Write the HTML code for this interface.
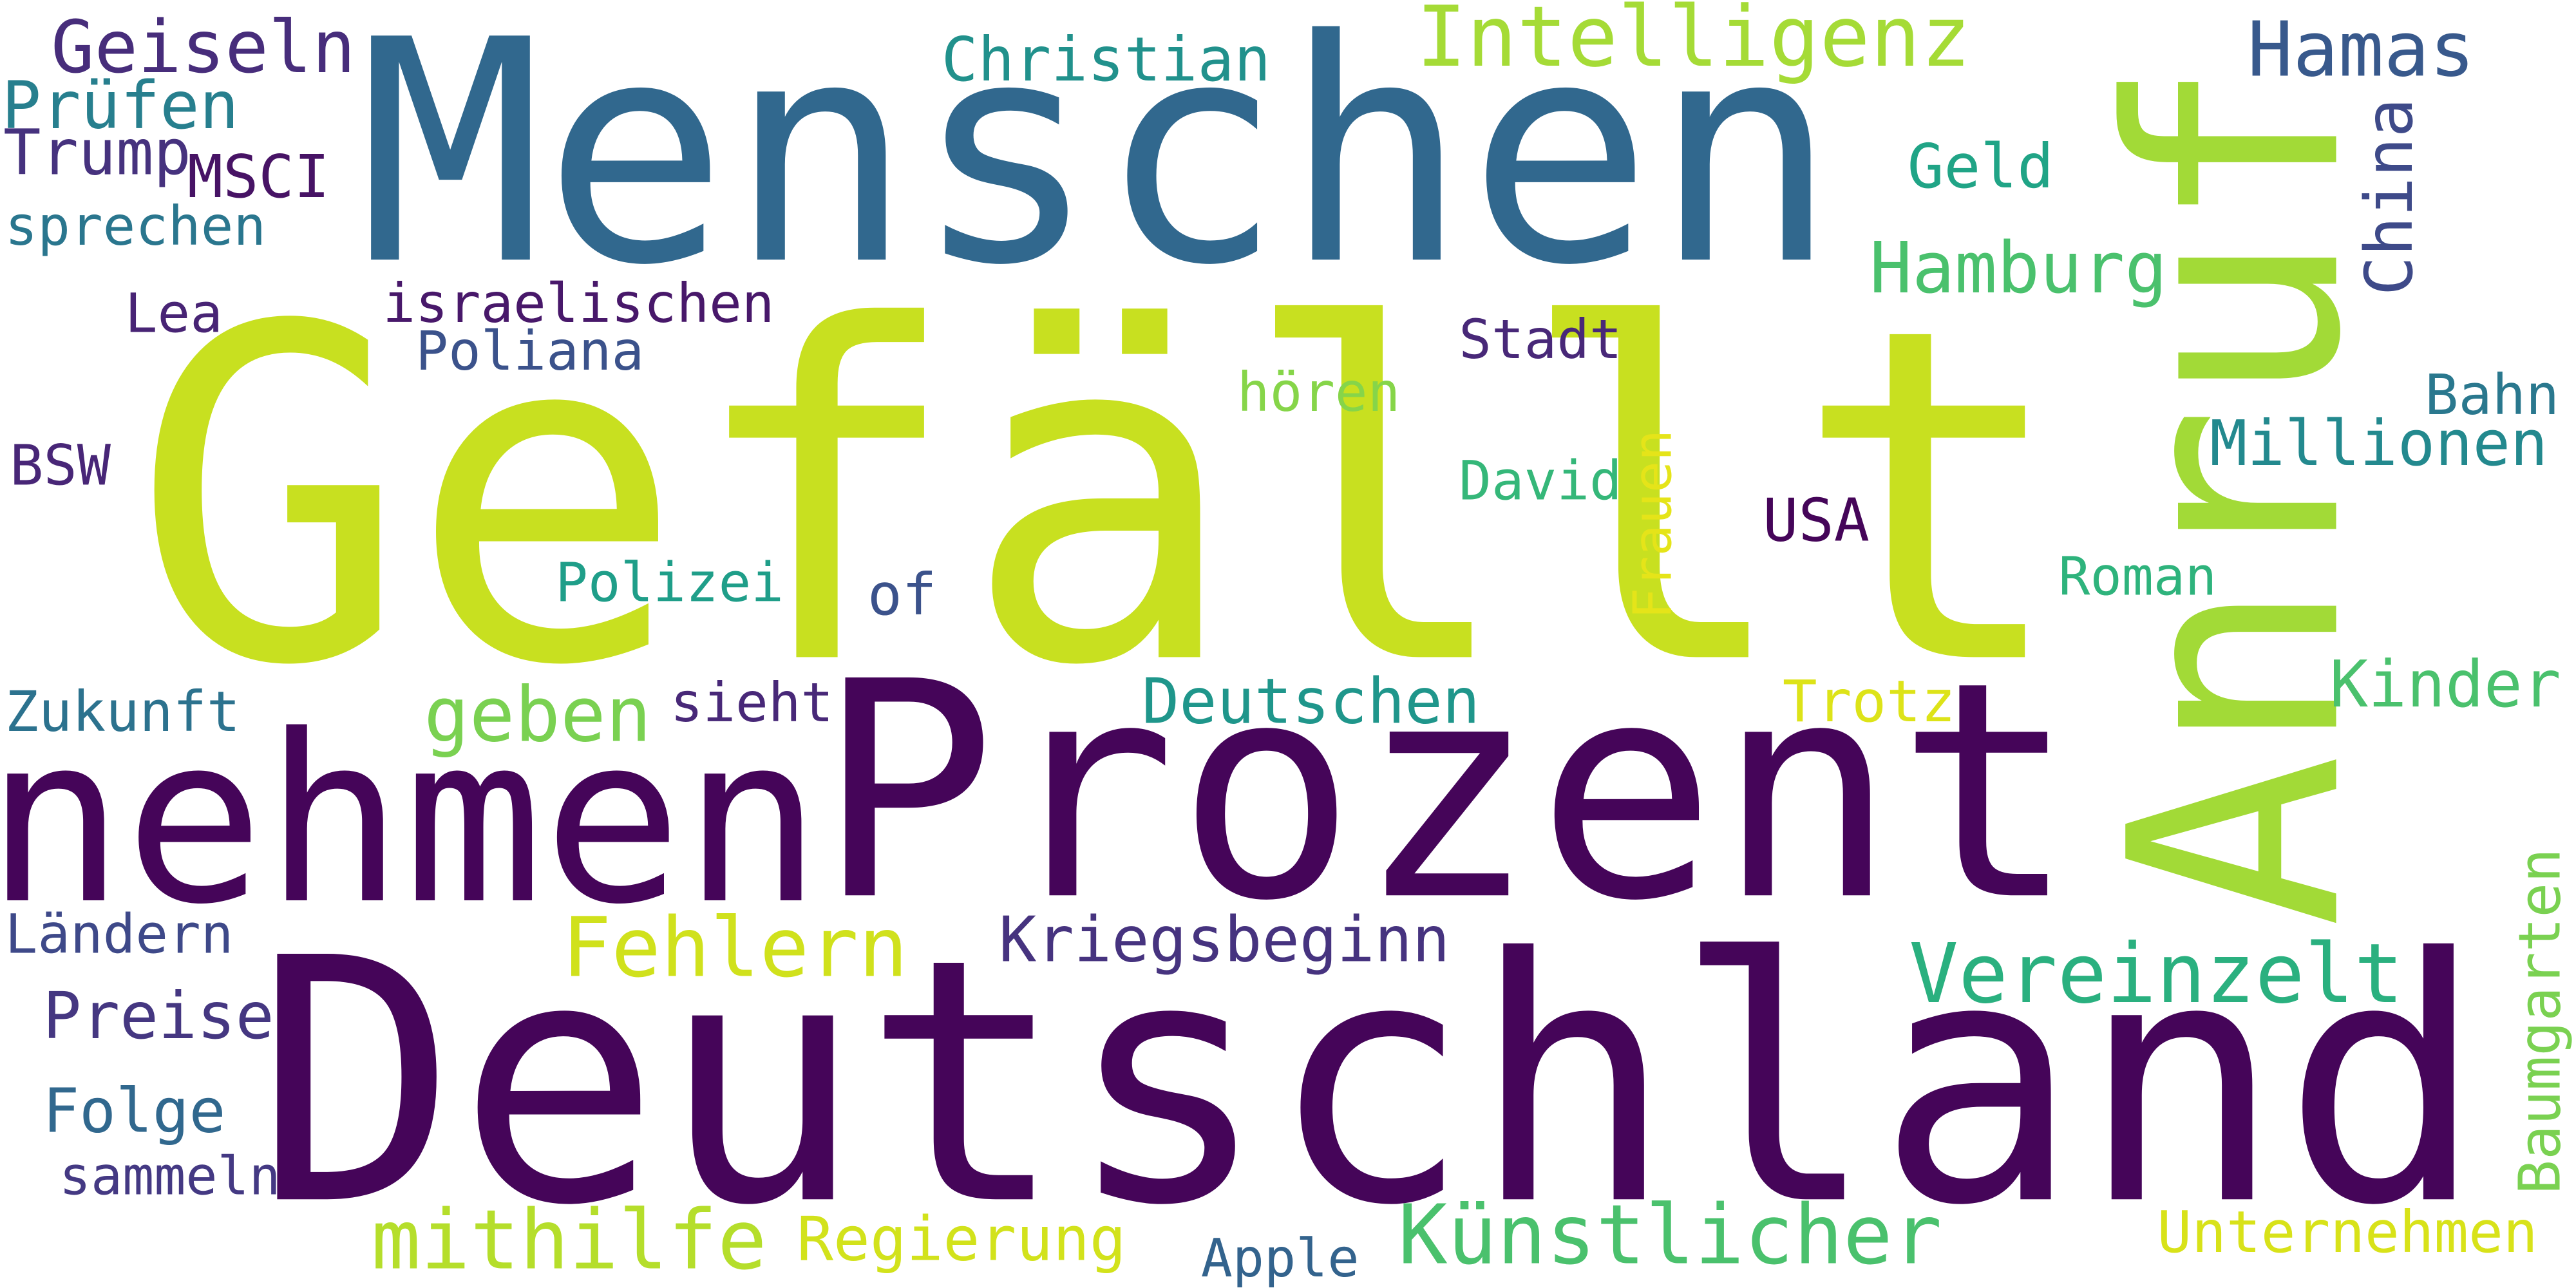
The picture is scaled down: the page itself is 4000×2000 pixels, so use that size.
<!DOCTYPE html>
<html><head><meta charset="utf-8"><style>
html,body{margin:0;padding:0;background:#fff;}
svg{display:block;}
text{font-family:"DejaVu Sans Mono","Liberation Mono",monospace;}
</style></head>
<body>
<svg id="cloud" width="4000" height="2000" viewBox="0 0 4000 2000" xmlns="http://www.w3.org/2000/svg">
<rect width="4000" height="2000" fill="#fff"/>
</svg>
<script>
const words=["Gefällt","Menschen","Prozent","nehmen","Deutschland","Anruf","Intelligenz","Hamas","China","Geld","Hamburg","Bahn","Millionen","Roman","Kinder","Baumgarten","Vereinzelt","Unternehmen","Künstlicher","Apple","Regierung","mithilfe","sammeln","Folge","Preise","Ländern","Zukunft","BSW","Lea","sprechen","Trump","MSCI","Prüfen","Geiseln","Christian","israelischen","Poliana","Stadt","hören","David","Frauen","USA","Polizei","of","geben","sieht","Deutschen","Trotz","Fehlern","Kriegsbeginn"];
const sizes=[280,187,182,141,205,176,51,46,40,37,43,34,38,32,39,35,50,35,50,32,37,50,32,37,39,33,34,34,33,33,38,36,40,44,37,33,33,33,33,33,32,36,33,35,46,33,38,35,50,38];
const xs=[80,218,497,-9,155,1422,862,1368,1468,1161,1138,1476,1345,1253,1418,1558,1162,1313,851,731,485,226,36,26,26,3,3,6,76,3,2,114,1,31,573,233,253,888,753,888,1017,1073,338,528,258,408,695,1085,342,608];
const ys=[400,158,545,548,730,565,40,46,180,114,178,252,283,362,430,727,610,762,769,777,767,772,727,689,632,580,445,295,202,149,106,120,78,44,49,196,225,218,250,304,377,329,366,374,451,439,440,439,594,585];
const rots=[0,0,0,0,0,-90,0,0,-90,0,0,0,0,0,0,-90,0,0,0,0,0,0,0,0,0,0,0,0,0,0,0,0,0,0,0,0,0,0,0,0,-90,0,0,0,0,0,0,0,0,0];
const colors=["#c8e020","#31688e","#450559","#450559","#450559","#a2da37","#a5db36","#38598c","#3e4a89","#20a486","#4ac16d","#2a788e","#23898e","#2eb37c","#4ac16d","#7ad151","#2ab07f","#d8e219","#4ac16d","#33638d","#d2e21b","#b5de2b","#443983","#31688e","#453781","#3e4989","#2c728e","#482677","#482475","#2a768e","#46327e","#471365","#277f8e","#472d7b","#21918c","#48186a","#3b528b","#482878","#86d549","#35b779","#e5e419","#450559","#1f9e89","#3b528b","#7ad151","#482878","#1f968b","#dde318","#d0e11c","#46337f"];
const S=4000/1568;
const svg=document.getElementById('cloud');
words.forEach((w,i)=>{
  const t=document.createElementNS('http://www.w3.org/2000/svg','text');
  const x=xs[i]*S, y=ys[i]*S, fs=sizes[i]*S;
  t.setAttribute('x',x);
  t.setAttribute('y',y);
  t.setAttribute('font-size',fs);
  t.setAttribute('fill',colors[i]);
  if(rots[i]) t.setAttribute('transform','rotate('+rots[i]+' '+x+' '+y+')');
  t.textContent=w;
  
  
  svg.appendChild(t);
});
</script>
</body></html>
